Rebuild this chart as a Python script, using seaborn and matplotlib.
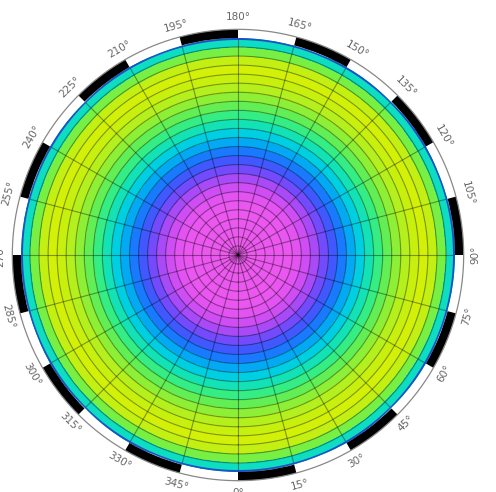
import numpy as np
import matplotlib
matplotlib.use("Agg")
import matplotlib.pyplot as plt
import seaborn as sns

# ---- data ----
ring_values = [0.01, 0.02, 0.03, 0.04, 0.05, 0.07, 0.10, 0.15, 0.21, 0.28, 0.35, 0.42,
               0.50, 0.58, 0.66, 0.74, 0.81, 0.87, 0.92, 0.96, 0.98, 0.95, 0.84, 0.64]
angle_labels = [0, 15, 30, 45, 60, 75, 90, 105, 120, 135, 150, 165, 180,
                195, 210, 225, 240, 255, 270, 285, 300, 315, 330, 345]
palette_colors = ['#ee5cee', '#e854f0', '#c84cf4', '#8a48fa', '#4a50ff', '#1a78ff',
                  '#04a8f4', '#00d0e0', '#14e4b0', '#38ee80', '#70f048', '#b0f020', '#dcf000']

sns.set_style("white")
plt.rcParams['font.family'] = ['DejaVu Sans']

cmap = sns.blend_palette(palette_colors, as_cmap=True)

fig = plt.figure(figsize=(4.96, 4.92), dpi=100)
W, H = 496, 492
cx, cy, R = 238, 255, 217
ax = fig.add_axes([(cx - R) / W, (H - cy - R) / H, 2 * R / W, 2 * R / H], projection='polar')
ax.set_theta_zero_location('S')
ax.set_theta_direction(1)

n_r = len(ring_values)
r_edges = np.linspace(0, 1, n_r + 1)
t_edges = np.linspace(0, 2 * np.pi, 145)
Z = np.tile(np.array(ring_values)[:, None], (1, len(t_edges) - 1))
T, Rg = np.meshgrid(t_edges, r_edges)
ax.pcolormesh(T, Rg, Z, cmap=cmap, vmin=0, vmax=1, shading='flat', zorder=1)

ax.set_ylim(0, 1)
ax.set_yticks(r_edges[1:-1])
ax.set_xticks(np.deg2rad(np.arange(0, 360, 15)))
ax.set_xticklabels([])
ax.set_yticklabels([])
ax.grid(True, color='black', alpha=0.38, linewidth=0.8)
ax.spines['polar'].set_visible(False)
ax.set_axisbelow(False)

# blue rim at the edge
tt = np.linspace(0, 2 * np.pi, 400)
ax.plot(tt, np.full_like(tt, 0.996), color='#2050c8', lw=1.6, zorder=3)

# frame band
for i in range(24):
    if i % 2 == 0:
        ax.bar(np.deg2rad(i * 15 + 7.5), 0.04, width=np.deg2rad(15), bottom=1.0,
               color='black', edgecolor='none', clip_on=False, zorder=4)
ax.plot(tt, np.full_like(tt, 1.04), color='#888888', lw=0.9, clip_on=False, zorder=4)

# labels
for d in angle_labels:
    a = (-90 + d) % 360
    if 0 < a <= 180:
        rot = a - 90
    else:
        rot = a - 270
    ax.text(np.deg2rad(d), 1.095, f"{d}°", rotation=rot, rotation_mode='anchor',
            ha='center', va='center', fontsize=7.5, color='#666666', clip_on=False)

fig.savefig("out.png", dpi=100)
